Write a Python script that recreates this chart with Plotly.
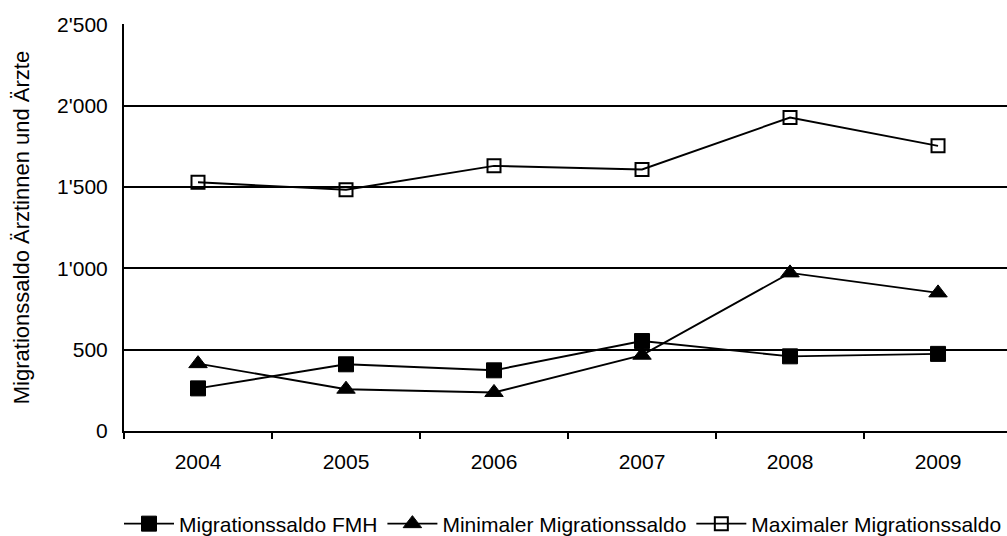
import plotly.graph_objects as go

years = ["2004", "2005", "2006", "2007", "2008", "2009"]
fmh = [262, 410, 373, 553, 459, 474]
minimal = [414, 257, 237, 466, 972, 849]
maximal = [1529, 1483, 1630, 1608, 1927, 1753]

y_tickvals = [0, 500, 1000, 1500, 2000, 2500]
y_ticktext = ["0", "500", "1'000", "1'500", "2'000", "2'500"]

FONT = "Liberation Sans, Arial, sans-serif"

fig = go.Figure()
fig.add_trace(go.Scatter(
    x=years, y=fmh, name="Migrationssaldo FMH", mode="lines+markers",
    line=dict(color="black", width=1.9),
    marker=dict(symbol="square", size=15, color="black", line=dict(color="black", width=1)),
))
fig.add_trace(go.Scatter(
    x=years, y=minimal, name="Minimaler Migrationssaldo", mode="lines+markers",
    line=dict(color="black", width=1.9),
    marker=dict(symbol="triangle-up", size=16, color="black", line=dict(color="black", width=1)),
))
fig.add_trace(go.Scatter(
    x=years, y=maximal, name="Maximaler Migrationssaldo", mode="lines+markers",
    line=dict(color="black", width=1.9),
    marker=dict(symbol="square-open", size=13, color="black", line=dict(color="black", width=2)),
))

fig.update_layout(
    width=1007, height=536,
    margin=dict(l=124, r=0, t=24, b=105, autoexpand=False),
    paper_bgcolor="white", plot_bgcolor="white",
    font=dict(family=FONT, size=21, color="black"),
    showlegend=True,
    legend=dict(
        orientation="h", x=1.0, xanchor="right",
        y=-0.2285, yanchor="middle",
        font=dict(family=FONT, size=21, color="black"),
        itemwidth=50, bgcolor="rgba(0,0,0,0)",
    ),
)
fig.update_xaxes(
    type="category", range=[-0.5, 5.466],
    showline=True, linecolor="black", linewidth=2,
    ticks="outside", tickson="boundaries", ticklen=6, tickwidth=2, tickcolor="black",
    ticklabelstandoff=11,
    showgrid=False, zeroline=False,
    tickfont=dict(family=FONT, size=21, color="black"),
)
fig.update_yaxes(
    range=[0, 2502],
    tickvals=y_tickvals, ticktext=y_ticktext,
    showline=True, linecolor="black", linewidth=2,
    ticks="", ticklabelstandoff=10,
    showgrid=True, gridcolor="black", gridwidth=2,
    zeroline=False,
    tickfont=dict(family=FONT, size=21, color="black"),
    title=dict(text="Migrationssaldo Ärztinnen und Ärzte", standoff=21,
               font=dict(family=FONT, size=22, color="black")),
)

fig.write_html("out.html", config={"displayModeBar": False},
               post_script="document.body.style.margin='0';")
